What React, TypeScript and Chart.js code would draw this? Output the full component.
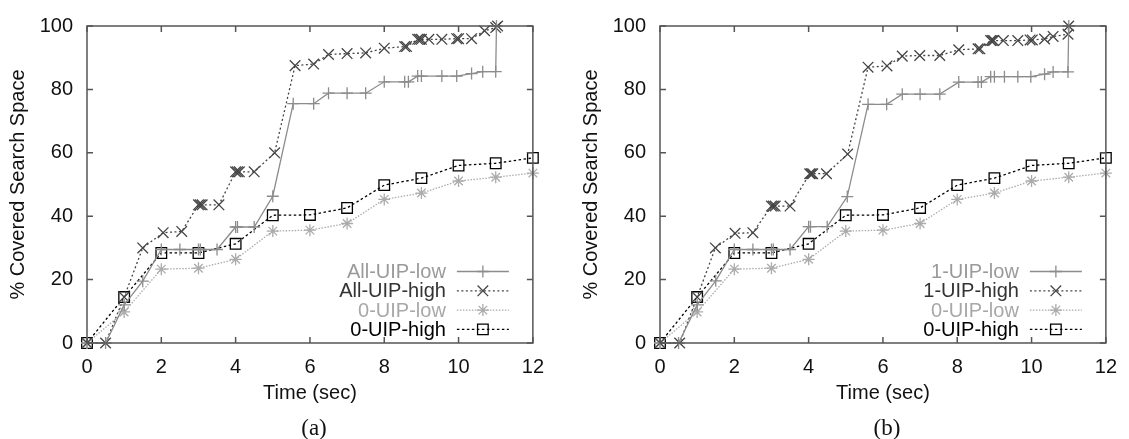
import React, { useEffect, useRef } from "react";
import { Chart, registerables } from "chart.js";

Chart.register(...registerables);

// ---------- Data ----------
const zeroTimes = [0, 1, 2, 3, 4, 5, 6, 7, 8, 9, 10, 11, 12];
const zeroLowVals = [0, 9.8, 23.3, 23.6, 26.4, 35.3, 35.6, 37.7, 45.3, 47.3, 51.1, 52.3, 53.6];
const zeroHighVals = [0, 14.5, 28.4, 28.4, 31.3, 40.3, 40.4, 42.6, 49.8, 52, 56, 56.7, 58.4];

const lowTimesA = [0, 0.5, 1, 1.5, 2, 2.5, 3, 3.05, 3.5, 4, 4.05, 4.5, 5, 5.55, 6.1, 6.5, 7, 7.5, 8, 8.55, 8.65, 8.9, 9.0, 9.55, 9.95, 10.35, 10.65, 11.0, 11.02];
const lowValsA = [0, 0, 12, 19.5, 29.5, 29.5, 29.5, 29.5, 29.5, 36.6, 36.6, 36.6, 46.3, 75.5, 75.5, 78.8, 78.8, 78.8, 82.4, 82.4, 82.4, 84.2, 84.2, 84.2, 84.2, 85, 85.6, 85.6, 100];

const highTimesA = [0, 0.5, 1, 1.5, 2.05, 2.55, 3.0, 3.05, 3.1, 3.55, 4.0, 4.05, 4.1, 4.5, 5.05, 5.6, 6.1, 6.5, 7.0, 7.5, 8.0, 8.55, 8.6, 8.9, 8.95, 9.0, 9.2, 9.55, 9.95, 10.0, 10.35, 10.7, 11.0, 11.05];
const highValsA = [0, 0, 14.5, 30, 34.8, 35.2, 43.6, 43.6, 43.6, 43.6, 54, 54, 54, 54, 60, 87.5, 88, 91, 91.3, 91.5, 93, 93.5, 93.5, 95.8, 95.8, 95.8, 95.8, 95.8, 96, 96, 96, 98.5, 99.5, 100];

const lowTimesB = [0, 0.5, 1, 1.5, 2, 2.5, 3, 3.05, 3.5, 4, 4.05, 4.5, 5.04, 5.6, 6.1, 6.52, 7, 7.53, 8.04, 8.56, 8.65, 8.9, 9.0, 9.27, 9.63, 9.98, 10.35, 10.58, 10.98, 11.0];
const lowValsB = [0, 0, 12, 19.6, 29.5, 29.5, 29.5, 29.5, 29.5, 36.7, 36.7, 36.7, 46.2, 75.3, 75.3, 78.5, 78.5, 78.5, 82.3, 82.3, 82.3, 84, 84, 84, 84, 84, 84.8, 85.5, 85.5, 100];

const highTimesB = [0, 0.53, 1, 1.49, 2.02, 2.5, 3.0, 3.05, 3.1, 3.5, 4.03, 4.07, 4.11, 4.48, 5.05, 5.6, 6.11, 6.52, 6.99, 7.53, 8.04, 8.56, 8.61, 8.9, 8.94, 8.98, 9.24, 9.63, 9.96, 10.02, 10.35, 10.58, 10.98, 11.0];
const highValsB = [0, 0, 14.5, 30, 34.6, 34.8, 43.2, 43.2, 43.2, 43.2, 53.4, 53.4, 53.4, 53.4, 59.6, 87, 87.4, 90.5, 90.7, 90.7, 92.5, 92.8, 92.8, 95.4, 95.4, 95.4, 95.4, 95.4, 95.6, 95.6, 95.9, 96.7, 97.4, 100];

const labelsA = ["All-UIP-low", "All-UIP-high", "0-UIP-low", "0-UIP-high"];
const labelsB = ["1-UIP-low", "1-UIP-high", "0-UIP-low", "0-UIP-high"];
const xTicks = [0, 2, 4, 6, 8, 10, 12];
const yTicks = [0, 20, 40, 60, 80, 100];

// ---------- Styles ----------
const FONT = "'Liberation Sans', Arial, sans-serif";
const FONT_SIZE = 20;
const SERIES_STYLE = [
  { color: "#8c8c8c", text: "#9a9a9a", dash: [] as number[], point: "cross", r: 6 },
  { color: "#454545", text: "#333333", dash: [2, 2.5], point: "crossRot", r: 7.5 },
  { color: "#ababab", text: "#a8a8a8", dash: [1.5, 1.5], point: "star", r: 6 },
  { color: "#000000", text: "#000000", dash: [2.5, 2.5], point: "rect", r: 7.5 },
];

const zip = (xs: number[], ys: number[]) => xs.map((x, i) => ({ x, y: ys[i] }));

function drawMarker(ctx: CanvasRenderingContext2D, style: string, x: number, y: number, r: number) {
  ctx.beginPath();
  const d = r * Math.SQRT1_2;
  if (style === "cross" || style === "star") {
    ctx.moveTo(x - r, y); ctx.lineTo(x + r, y);
    ctx.moveTo(x, y - r); ctx.lineTo(x, y + r);
  }
  if (style === "crossRot" || style === "star") {
    ctx.moveTo(x - d, y - d); ctx.lineTo(x + d, y + d);
    ctx.moveTo(x - d, y + d); ctx.lineTo(x + d, y - d);
  }
  if (style === "rect") {
    ctx.rect(x - d, y - d, 2 * d, 2 * d);
  }
  ctx.stroke();
}

const framePlugin = {
  id: "frameTicks",
  afterDatasetsDraw(chart: any) {
    const { ctx, chartArea: a, scales } = chart;
    const xs = scales.x, ys = scales.y;
    ctx.save();
    ctx.strokeStyle = "#555";
    ctx.lineWidth = 1.5;
    ctx.setLineDash([]);
    ctx.strokeRect(a.left, a.top, a.right - a.left, a.bottom - a.top);
    const L = 6;
    ctx.beginPath();
    xTicks.forEach((v) => {
      const px = xs.getPixelForValue(v);
      ctx.moveTo(px, a.bottom); ctx.lineTo(px, a.bottom - L);
      ctx.moveTo(px, a.top); ctx.lineTo(px, a.top + L);
    });
    yTicks.forEach((v) => {
      const py = ys.getPixelForValue(v);
      ctx.moveTo(a.left, py); ctx.lineTo(a.left + L, py);
      ctx.moveTo(a.right, py); ctx.lineTo(a.right - L, py);
    });
    ctx.stroke();

    // legend
    const textRight = a.right - 87;
    const s0 = a.right - 76;
    const s1 = a.right - 24;
    chart.data.datasets.forEach((ds: any, i: number) => {
      const st = SERIES_STYLE[i];
      const y = a.bottom - 71.5 + i * 19.3;
      ctx.font = `${FONT_SIZE}px ${FONT}`;
      ctx.textAlign = "right";
      ctx.textBaseline = "middle";
      ctx.fillStyle = st.text;
      ctx.fillText(ds.label, textRight, y + 1);
      ctx.strokeStyle = st.color;
      ctx.lineWidth = 1.3;
      ctx.setLineDash(st.dash);
      ctx.beginPath();
      ctx.moveTo(s0, y); ctx.lineTo(s1, y);
      ctx.stroke();
      ctx.setLineDash([]);
      drawMarker(ctx, st.point, (s0 + s1) / 2, y, st.r);
    });
    ctx.restore();
  },
};

function makeDatasets(labels: string[], lowT: number[], lowV: number[], highT: number[], highV: number[]) {
  const data = [zip(lowT, lowV), zip(highT, highV), zip(zeroTimes, zeroLowVals), zip(zeroTimes, zeroHighVals)];
  return data.map((d, i) => {
    const st = SERIES_STYLE[i];
    return {
      label: labels[i],
      data: d,
      showLine: true,
      borderColor: st.color,
      borderWidth: 1.3,
      borderDash: st.dash,
      pointStyle: st.point,
      pointRadius: st.r,
      pointBorderWidth: 1.3,
      pointBorderColor: st.color,
      pointBackgroundColor: "rgba(0,0,0,0)",
      fill: false,
      tension: 0,
      clip: false as any,
    };
  });
}

function Panel(props: { left: number; labels: string[]; lowT: number[]; lowV: number[]; highT: number[]; highV: number[]; tag: string }) {
  const ref = useRef<HTMLCanvasElement>(null);
  useEffect(() => {
    const tickFont = { family: FONT, size: FONT_SIZE };
    const chart = new Chart(ref.current!, {
      type: "scatter",
      data: { datasets: makeDatasets(props.labels, props.lowT, props.lowV, props.highT, props.highV) as any },
      options: {
        animation: false,
        responsive: false,
        maintainAspectRatio: false,
        layout: { padding: { left: 0, top: 20, right: 12, bottom: 0 } },
        plugins: { legend: { display: false }, tooltip: { enabled: false } },
        scales: {
          x: {
            type: "linear",
            min: 0,
            max: 12,
            afterBuildTicks: (s: any) => { s.ticks = xTicks.map((v) => ({ value: v })); },
            ticks: { font: tickFont, color: "#111", padding: 12, maxRotation: 0, autoSkip: false },
            grid: { display: false, drawTicks: false },
            border: { display: false },
            title: { display: true, text: "Time (sec)", font: tickFont, color: "#111", padding: { top: 0, bottom: 34 } },
            afterFit: (s: any) => { s.height = 96; },
          },
          y: {
            type: "linear",
            min: 0,
            max: 100,
            afterBuildTicks: (s: any) => { s.ticks = yTicks.map((v) => ({ value: v })); },
            ticks: { font: tickFont, color: "#111", padding: 14, autoSkip: false },
            grid: { display: false, drawTicks: false },
            border: { display: false },
            title: { display: true, text: "% Covered Search Space", font: tickFont, color: "#111", padding: { top: 6, bottom: 0 } },
            afterFit: (s: any) => { s.width = 87; },
          },
        },
      },
      plugins: [framePlugin],
    });
    return () => chart.destroy();
  }, []);
  return (
    <>
      <canvas
        ref={ref}
        width={556}
        height={439}
        style={{ position: "absolute", left: props.left, top: 0, width: 556, height: 439 }}
      />
      <div
        style={{
          position: "absolute",
          left: props.left + 314,
          top: 428,
          transform: "translate(-50%, -50%)",
          fontFamily: "'Liberation Serif', 'Times New Roman', serif",
          fontSize: 23,
          color: "#111",
          whiteSpace: "nowrap",
        }}
      >
        {props.tag}
      </div>
    </>
  );
}

export default function App() {
  return (
    <div style={{ position: "absolute", left: 0, top: 0, width: 1129, height: 439, background: "#fff", overflow: "hidden" }}>
      <Panel left={0} labels={labelsA} lowT={lowTimesA} lowV={lowValsA} highT={highTimesA} highV={highValsA} tag="(a)" />
      <Panel left={573} labels={labelsB} lowT={lowTimesB} lowV={lowValsB} highT={highTimesB} highV={highValsB} tag="(b)" />
    </div>
  );
}
